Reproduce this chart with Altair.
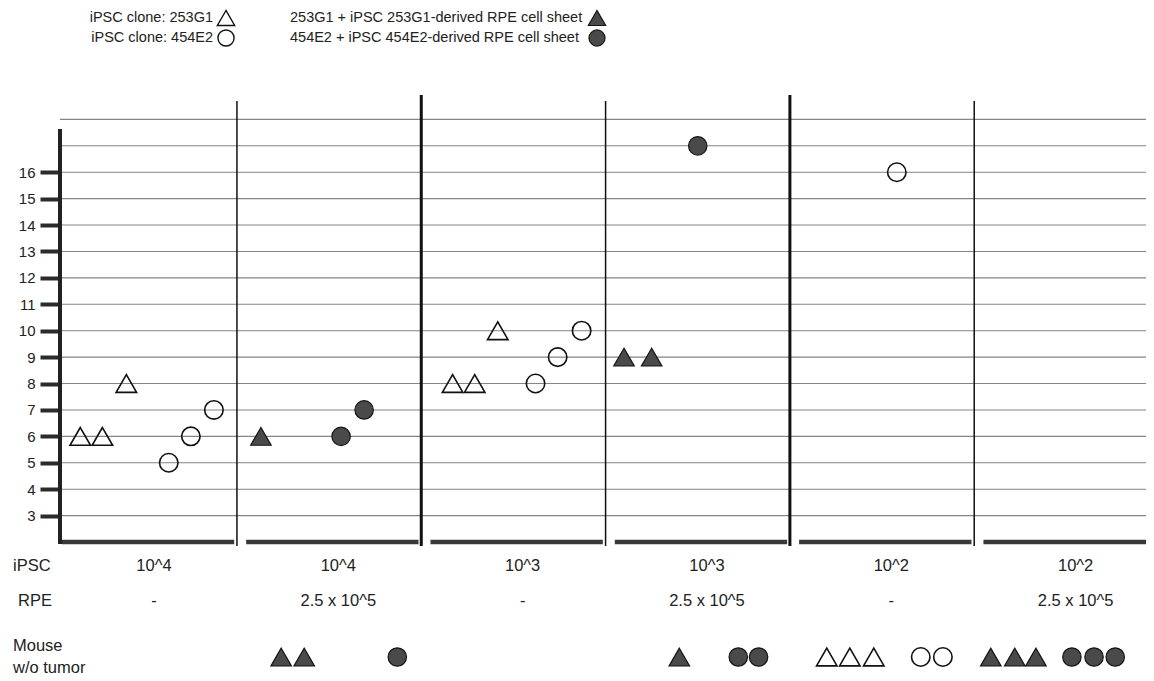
import altair as alt
import pandas as pd

# ---------------- data ----------------
legend_labels = ["iPSC clone: 253G1", "iPSC clone: 454E2",
                 "253G1 + iPSC 253G1-derived RPE cell sheet",
                 "454E2 + iPSC 454E2-derived RPE cell sheet"]
group_kind = ["open", "open", "filled", "filled"]
group_shape = ["triangle-up", "circle", "triangle-up", "circle"]

ipsc_labels = ["10^4", "10^4", "10^3", "10^3", "10^2", "10^2"]
rpe_labels = ["-", "2.5 x 10^5", "-", "2.5 x 10^5", "-", "2.5 x 10^5"]

# tumour-forming mice: panel (0-5), slot within panel (0-1), value, group
pt_panel = [0, 0, 0, 0, 0, 0, 1, 1, 1, 2, 2, 2, 2, 2, 2, 3, 3, 3, 4]
pt_slot = [0.15, 0.27, 0.40, 0.63, 0.75, 0.875,
           0.13, 0.565, 0.69,
           0.17, 0.29, 0.415, 0.62, 0.74, 0.87,
           0.10, 0.25, 0.50,
           0.58]
pt_value = [6, 6, 8, 5, 6, 7,
            6, 6, 7,
            8, 8, 10, 8, 9, 10,
            9, 9, 17,
            16]
pt_group = [0, 0, 0, 1, 1, 1,
            2, 3, 3,
            0, 0, 0, 1, 1, 1,
            2, 2, 3,
            1]

# mice without tumour
m_panel = [1, 1, 1, 3, 3, 3, 4, 4, 4, 4, 4, 5, 5, 5, 5, 5, 5]
m_slot = [0.24, 0.365, 0.87,
          0.40, 0.72, 0.83,
          0.20, 0.325, 0.455, 0.71, 0.83,
          0.09, 0.22, 0.335, 0.53, 0.65, 0.765]
m_group = [2, 2, 3,
           2, 3, 3,
           0, 0, 0, 1, 1,
           2, 2, 2, 3, 3, 3]

y_tick_values = list(range(3, 17))
grid_values = list(range(3, 19))

# ---------------- tables ----------------
pts = pd.DataFrame({
    "pos": [p + s for p, s in zip(pt_panel, pt_slot)],
    "value": pt_value,
    "kind": [group_kind[g] for g in pt_group],
    "shape": [group_shape[g] for g in pt_group],
})
mice = pd.DataFrame({
    "pos": [p + s for p, s in zip(m_panel, m_slot)],
    "kind": [group_kind[g] for g in m_group],
    "shape": [group_shape[g] for g in m_group],
})
panels = pd.DataFrame({
    "idx": list(range(6)),
    "ipsc": ipsc_labels,
    "rpe": rpe_labels,
})
panels["center"] = panels["idx"] + 0.55
panels["bar_start"] = panels["idx"] + 0.05
panels["bar_end"] = panels["idx"] + 0.985
seps = pd.DataFrame({"x": [1, 2, 3, 4, 5], "thick": [False, True, False, True, False]})
grid = pd.DataFrame({"v": grid_values})

W, H = 1086, 449
FONT = "Liberation Sans"
XS = alt.Scale(domain=[0.04, 5.932], nice=False, zero=False)
YS = alt.Scale(domain=[2, 19], nice=False, zero=False)
TRI, CIRC = 420, 340

yaxis = alt.Axis(values=y_tick_values, tickSize=20, tickWidth=4, tickColor="#2b2b2b",
                 domain=False, grid=False, labelFontSize=15, labelFont=FONT,
                 labelColor="#222222", labelPadding=5, title=None)

gridlines = alt.Chart(grid).mark_rule(color="#858585", strokeWidth=1.1).encode(
    y=alt.Y("v:Q", scale=YS, axis=yaxis), x=alt.value(0), x2=alt.value(W))

left_axis = alt.Chart(grid).mark_rule(color="#222222", strokeWidth=4).encode(
    x=alt.value(0), y=alt.value(36), y2=alt.value(451))

bars = alt.Chart(panels).mark_rule(color="#383838", strokeWidth=4.5).encode(
    x=alt.X("bar_start:Q", scale=XS, axis=None), x2="bar_end:Q", y=alt.value(449))

thin = alt.Chart(seps).transform_filter("!datum.thick").mark_rule(
    color="#111111", strokeWidth=1.5).encode(
    x=alt.X("x:Q", scale=XS, axis=None), y=alt.value(8), y2=alt.value(453))
thick = alt.Chart(seps).transform_filter("datum.thick").mark_rule(
    color="#111111", strokeWidth=3).encode(
    x=alt.X("x:Q", scale=XS, axis=None), y=alt.value(2), y2=alt.value(453))


def point_layers(df, yenc):
    base = alt.Chart(df)
    openp = base.transform_filter("datum.kind == 'open'").mark_point(
        filled=False, color="#111111", strokeWidth=1.6, opacity=1).encode(
        x=alt.X("pos:Q", scale=XS, axis=None), y=yenc,
        shape=alt.Shape("shape:N", scale=None),
        size=alt.condition("datum.shape == 'circle'", alt.value(CIRC), alt.value(TRI)))
    fillp = base.transform_filter("datum.kind == 'filled'").mark_point(
        filled=True, fill="#4a4a4a", stroke="#151515", strokeWidth=1.2, opacity=1).encode(
        x=alt.X("pos:Q", scale=XS, axis=None), y=yenc,
        shape=alt.Shape("shape:N", scale=None),
        size=alt.condition("datum.shape == 'circle'", alt.value(CIRC), alt.value(TRI)))
    return [openp, fillp]


data_pts = point_layers(pts, alt.Y("value:Q", scale=YS, axis=yaxis))
mouse_pts = point_layers(mice, alt.value(564))

txt = dict(font=FONT, fontSize=16.5, color="#222222", baseline="middle")
ipsc_txt = alt.Chart(panels).mark_text(align="center", **txt).encode(
    x=alt.X("center:Q", scale=XS, axis=None), y=alt.value(473), text="ipsc:N")
rpe_txt = alt.Chart(panels).mark_text(align="center", **txt).encode(
    x=alt.X("center:Q", scale=XS, axis=None), y=alt.value(508), text="rpe:N")

row_heads = pd.DataFrame({"label": ["iPSC", "RPE", "Mouse", "w/o tumor"]})
row_y = [473, 508, 553, 575]
row_x = [-47, -42, -47, -47]
heads = []
for i, lab in enumerate(row_heads["label"]):
    heads.append(alt.Chart(row_heads[row_heads["label"] == lab]).mark_text(
        align="left", **txt).encode(x=alt.value(row_x[i]), y=alt.value(row_y[i]), text="label:N"))

# legend
leg = pd.DataFrame({"label": legend_labels, "kind": group_kind, "shape": group_shape})
leg_pos = [(153, 166, -75, "right"), (153, 166, -55, "right"),
           (230, 537, -75, "left"), (230, 537, -55, "left")]
legend_layers = []
for i, (tx, sx, ly, al) in enumerate(leg_pos):
    row = leg.iloc[[i]]
    legend_layers.append(alt.Chart(row).mark_text(
        align=al, baseline="middle", font=FONT, fontSize=14.5, color="#222222").encode(
        x=alt.value(tx), y=alt.value(ly), text="label:N"))
    sz = 260 if group_shape[i] == "circle" else 300
    if group_kind[i] == "open":
        m = alt.Chart(row).mark_point(filled=False, color="#111111", strokeWidth=1.4, opacity=1, size=sz)
    else:
        m = alt.Chart(row).mark_point(filled=True, fill="#4a4a4a", stroke="#151515", strokeWidth=1.2,
                                      opacity=1, size=sz)
    legend_layers.append(m.encode(x=alt.value(sx), y=alt.value(ly),
                                  shape=alt.Shape("shape:N", scale=None)))

chart = alt.layer(
    gridlines, bars, thin, thick, left_axis,
    *data_pts, *mouse_pts, ipsc_txt, rpe_txt, *heads, *legend_layers
).properties(
    width=W, height=H,
    padding={"left": 52, "top": 85, "right": 0, "bottom": 136},
    autosize=alt.AutoSizeParams(type="none"),
    background="white",
).configure_view(stroke=None)

chart.save("out.html", embed_options={"renderer": "svg", "actions": False})
